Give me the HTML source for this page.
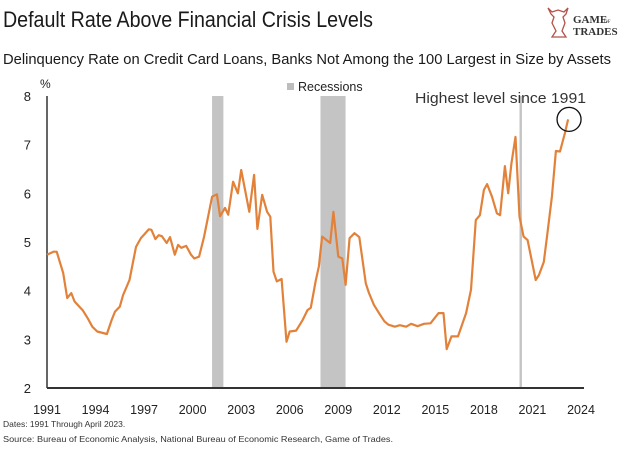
<!DOCTYPE html>
<html><head><meta charset="utf-8"><style>
html,body{margin:0;padding:0;background:#fff;}
svg{display:block;font-family:"Liberation Sans",sans-serif;}
</style></head><body>
<svg id="chart" width="624" height="454" viewBox="0 0 624 454" xmlns="http://www.w3.org/2000/svg">
<text x="3" y="27" font-size="22" fill="#1a1a1a" textLength="370" lengthAdjust="spacingAndGlyphs">Default Rate Above Financial Crisis Levels</text>
<text x="3" y="64" font-size="14.5" fill="#1a1a1a" textLength="608" lengthAdjust="spacingAndGlyphs">Delinquency Rate on Credit Card Loans, Banks Not Among the 100 Largest in Size by Assets</text>
<g>
<path d="M548 8 l4 4 l6 -2 l6 2 l4 -4 l-2 6 l-3 3 l2 6 l-3 8 l4 6 l-14 0 l4 -6 l-4 -8 l2 -6 l-3 -3 z" fill="none" stroke="#b5524a" stroke-width="1.3"/>
<text x="573" y="23" font-family="Liberation Serif,serif" font-size="11" font-weight="bold" fill="#333">GAME</text>
<text x="604" y="23" font-family="Liberation Serif,serif" font-size="5" fill="#333">OF</text>
<text x="573" y="35" font-family="Liberation Serif,serif" font-size="11" font-weight="bold" fill="#333">TRADES</text>
</g>
<g id="plot"></g>
<text x="40" y="88" font-size="12" fill="#222">%</text>
<g>
<rect x="287" y="83" width="7" height="7" fill="#bdbdbd"/>
<text x="298" y="91" font-size="12.5" fill="#222">Recessions</text>
</g>
<text x="415" y="103" font-size="15" fill="#333" textLength="171" lengthAdjust="spacingAndGlyphs">Highest level since 1991</text>
<text x="3" y="427" font-size="8.5" fill="#333">Dates: 1991 Through April 2023.</text>
<text x="3" y="442" font-size="8.5" fill="#333" textLength="390" lengthAdjust="spacingAndGlyphs">Source: Bureau of Economic Analysis, National Bureau of Economic Research, Game of Trades.</text>
</svg>
<script>
const years=[1991.0,1991.4,1991.6,1992.0,1992.25,1992.5,1992.7,1993.0,1993.2,1993.5,1993.8,1994.1,1994.7,1995.0,1995.2,1995.5,1995.7,1996.1,1996.5,1996.8,1997.3,1997.45,1997.7,1997.9,1998.1,1998.4,1998.6,1998.9,1999.1,1999.3,1999.6,1999.9,2000.1,2000.4,2000.7,2001.2,2001.5,2001.7,2002.0,2002.2,2002.5,2002.8,2003.0,2003.5,2003.8,2004.0,2004.3,2004.6,2004.8,2005.0,2005.2,2005.5,2005.8,2006.0,2006.4,2006.8,2007.1,2007.3,2007.6,2007.8,2008.0,2008.5,2008.7,2009.0,2009.25,2009.45,2009.7,2010.0,2010.3,2010.7,2010.9,2011.2,2011.5,2011.85,2012.1,2012.5,2012.8,2013.2,2013.5,2013.9,2014.3,2014.7,2015.2,2015.5,2015.7,2016.0,2016.4,2016.9,2017.2,2017.5,2017.75,2018.0,2018.2,2018.5,2018.8,2019.0,2019.3,2019.5,2019.7,2019.95,2020.2,2020.45,2020.7,2021.2,2021.4,2021.7,2021.9,2022.2,2022.45,2022.7,2023.0,2023.2];
const rates=[4.74,4.80,4.80,4.36,3.85,3.95,3.78,3.67,3.60,3.44,3.26,3.16,3.11,3.40,3.57,3.67,3.91,4.22,4.90,5.08,5.26,5.25,5.06,5.14,5.12,4.98,5.10,4.74,4.94,4.88,4.92,4.74,4.66,4.70,5.10,5.93,5.98,5.53,5.70,5.56,6.24,6.00,6.48,5.62,6.38,5.27,5.97,5.62,5.52,4.39,4.19,4.24,2.95,3.16,3.18,3.40,3.60,3.65,4.19,4.50,5.11,4.98,5.62,4.70,4.66,4.12,5.08,5.18,5.10,4.15,3.95,3.71,3.55,3.37,3.30,3.26,3.29,3.26,3.32,3.27,3.32,3.33,3.54,3.54,2.80,3.06,3.06,3.54,4.02,5.45,5.55,6.07,6.19,5.93,5.59,5.55,6.56,6.00,6.61,7.16,5.52,5.11,5.04,4.22,4.32,4.59,5.11,5.93,6.87,6.86,7.23,7.52];
const recStart=[2001.2,2007.9,2020.2];
const recEnd=[2001.9,2009.45,2020.35];
const xTicks=[1991,1994,1997,2000,2003,2006,2009,2012,2015,2018,2021,2024];
const yTicks=[2,3,4,5,6,7,8];
const NS="http://www.w3.org/2000/svg";
const X0=47,X1=581,Y0=388,Y1=96;
function xs(y){return X0+(y-1991)/(2024-1991)*(X1-X0);}
function ys(v){return Y0-(v-2)/(8-2)*(Y0-Y1);}
const g=document.getElementById('plot');
function mk(t,a){const e=document.createElementNS(NS,t);for(const k in a)e.setAttribute(k,a[k]);g.appendChild(e);return e;}
recStart.forEach((s,i)=>{
 const r=mk('rect',{x:xs(s),y:Y1,width:Math.max(2,xs(recEnd[i])-xs(s)),height:Y0-Y1,fill:'#c4c4c4'});
 
 
});
const ya=mk('line',{x1:X0,y1:Y1,x2:X0,y2:Y0,stroke:'#333','stroke-width':1.5});


const xa=mk('line',{x1:X0,y1:Y0,x2:X1+3,y2:Y0,stroke:'#333','stroke-width':2});


yTicks.forEach(v=>{
 const t=mk('text',{x:31,y:ys(v)+5,'font-size':13,fill:'#222','text-anchor':'end'});t.textContent=v;
 
 
});
xTicks.forEach(v=>{
 const t=mk('text',{x:xs(v),y:414,'font-size':12.5,fill:'#222','text-anchor':'middle'});t.textContent=v;
 
 
});
const d=years.map((y,i)=>(i?'L':'M')+xs(y).toFixed(1)+' '+ys(rates[i]).toFixed(1)).join(' ');
const p=mk('path',{d:d,fill:'none',stroke:'#e2823a','stroke-width':2.2,'stroke-linejoin':'round'});


const li=years.length-1;
const c=mk('circle',{cx:xs(years[li])+1,cy:ys(rates[li]),r:12,fill:'none',stroke:'#111','stroke-width':1.3});


</script>
</body></html>
